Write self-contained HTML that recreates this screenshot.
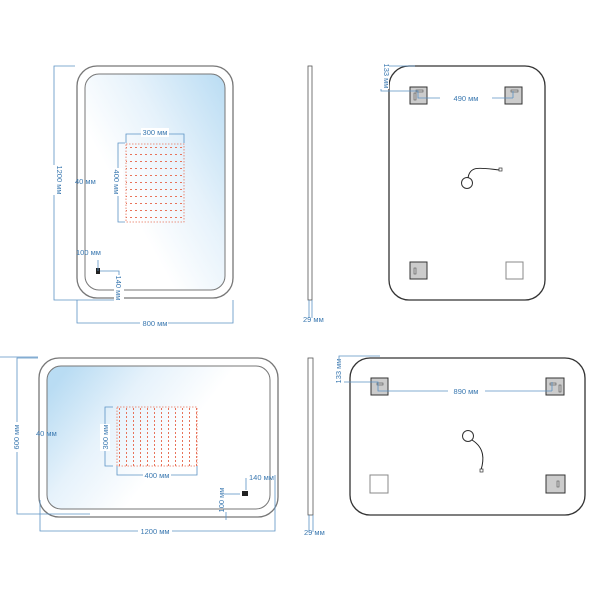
<!DOCTYPE html>
<html><head><meta charset="utf-8"><style>
html,body{margin:0;padding:0;background:#fff;}
svg{display:block;}
text{font-family:"Liberation Sans",sans-serif;font-size:7.5px;fill:#3a78b0;}
</style></head><body>
<svg width="600" height="600" viewBox="0 0 600 600" xmlns="http://www.w3.org/2000/svg">
<defs>
<linearGradient id="g1" x1="1" y1="0" x2="0.3" y2="0.6">
<stop offset="0" stop-color="#b9dcf3"/><stop offset="0.55" stop-color="#e6f2fb"/><stop offset="1" stop-color="#ffffff"/>
</linearGradient>
<linearGradient id="g2" x1="0" y1="0.2" x2="0.6" y2="0.5">
<stop offset="0" stop-color="#b9dcf3"/><stop offset="0.5" stop-color="#e6f2fb"/><stop offset="1" stop-color="#ffffff"/>
</linearGradient>
<pattern id="ledH" width="5" height="7" patternUnits="userSpaceOnUse">
<rect x="0" y="0" width="2" height="1" fill="#e8735a"/>
</pattern>
<pattern id="ledV" width="7" height="4" patternUnits="userSpaceOnUse">
<rect x="0" y="0" width="1" height="2" fill="#e8735a"/>
</pattern>
</defs>
<rect x="77" y="66" width="156" height="232" rx="20" fill="#fff" stroke="#777" stroke-width="1.3"/>
<rect x="85" y="74" width="140" height="216" rx="14" fill="url(#g1)" stroke="#777" stroke-width="1"/>
<rect x="126" y="144" width="58" height="78" fill="url(#ledH)"/>
<rect x="126" y="144" width="58" height="78" fill="none" stroke="#e8735a" stroke-width="0.8" stroke-dasharray="1.5 1.5"/>
<rect x="96" y="268" width="4" height="6" fill="#222"/>
<rect x="308" y="66" width="4" height="234" fill="#fff" stroke="#555" stroke-width="0.8"/>
<rect x="389" y="66" width="156" height="234" rx="20" fill="#fff" stroke="#333" stroke-width="1.3"/>
<g stroke="#333" stroke-width="1"><rect x="410" y="87" width="17" height="17" fill="#ccc"/><rect x="505" y="87" width="17" height="17" fill="#ccc"/><rect x="410" y="262" width="17" height="17" fill="#ccc"/><rect x="506" y="262" width="17" height="17" fill="#fff" stroke="#888"/></g>
<g fill="none" stroke="#555" stroke-width="0.6"><rect x="414" y="93" width="2" height="7"/><rect x="416" y="90" width="7" height="2"/><rect x="511" y="90" width="7" height="2"/><rect x="414" y="268" width="2" height="6"/></g>
<circle cx="467" cy="183" r="5.5" fill="#fff" stroke="#333"/>
<path d="M468,178 C470,165 480,168 500,170" fill="none" stroke="#222" stroke-width="1"/>
<rect x="499" y="168" width="3" height="3" fill="#fff" stroke="#333" stroke-width="0.7"/>
<rect x="39" y="358" width="239" height="159" rx="20" fill="#fff" stroke="#777" stroke-width="1.3"/>
<rect x="47" y="366" width="223" height="143" rx="14" fill="url(#g2)" stroke="#777" stroke-width="1"/>
<rect x="117" y="407" width="80" height="59" fill="url(#ledV)"/>
<rect x="117" y="407" width="80" height="59" fill="none" stroke="#e8735a" stroke-width="0.8" stroke-dasharray="1.5 1.5"/>
<rect x="242" y="491" width="6" height="5" fill="#222"/>
<rect x="308" y="358" width="5" height="157" fill="#fff" stroke="#555" stroke-width="0.8"/>
<rect x="350" y="358" width="235" height="157" rx="20" fill="#fff" stroke="#333" stroke-width="1.3"/>
<g stroke="#333" stroke-width="1"><rect x="371" y="378" width="17" height="17" fill="#ccc"/><rect x="546" y="378" width="18" height="17" fill="#ccc"/><rect x="370" y="475" width="18" height="18" fill="#fff" stroke="#888"/><rect x="546" y="475" width="19" height="18" fill="#ccc"/></g>
<g fill="none" stroke="#555" stroke-width="0.6"><rect x="377" y="383" width="6" height="2"/><rect x="550" y="383" width="6" height="2"/><rect x="559" y="385" width="2" height="7"/><rect x="557" y="481" width="2" height="6"/></g>
<circle cx="468" cy="436" r="5.5" fill="#fff" stroke="#333"/>
<path d="M472,440 C485,448 484,460 481,470" fill="none" stroke="#222" stroke-width="1"/>
<rect x="480" y="469" width="3" height="3" fill="#fff" stroke="#333" stroke-width="0.7"/>
<g fill="none" stroke="#5b92c4" stroke-width="0.8">
<polyline points="75,66 54,66 54,300 115,300"/>
<polyline points="77,300 77,323 233,323 233,300"/>
<polyline points="125,143 118,143 118,222 125,222"/>
<polyline points="126,143 126,134 184,134 184,143"/>
<polyline points="98,260 98,271"/>
<polyline points="100,271 119,271 119,300"/>
<line x1="309" y1="300" x2="309" y2="318"/><line x1="312" y1="300" x2="312" y2="318"/>
<polyline points="415,66 381,66 381,91 418,91 418,98 440,98"/>
<line x1="492" y1="98" x2="513" y2="98"/><line x1="513" y1="91" x2="513" y2="98"/>
<polyline points="0,357 38,357"/>
<polyline points="38,358 17,358 17,514 90,514"/>
<polyline points="40,500 40,531 275,531 275,475"/>
<polyline points="113,407 105,407 105,466 113,466"/>
<polyline points="117,466 117,475 197,475 197,466"/>
<polyline points="224,494 240,494"/>
<polyline points="246,478 246,490"/>
<line x1="226" y1="512" x2="226" y2="520"/>
<line x1="309" y1="515" x2="309" y2="532"/><line x1="313" y1="515" x2="313" y2="532"/>
<polyline points="380,356 339,356 339,382 378,382 378,391 448,391"/>
<line x1="485" y1="391" x2="552" y2="391"/><line x1="552" y1="382" x2="552" y2="391"/>
</g>
<g>
<rect x="141" y="128" width="28" height="9" fill="#fff"/>
<text x="155" y="135" text-anchor="middle">300 мм</text>
<rect x="48" y="165" width="12" height="30" fill="#fff"/>
<text transform="translate(57,180) rotate(90)" text-anchor="middle">1200 мм</text>
<rect x="113" y="168" width="10" height="28" fill="#fff"/>
<text transform="translate(114,182) rotate(90)" text-anchor="middle">400 мм</text>
<text x="75" y="184">40 мм</text>
<text x="76" y="255">100 мм</text>
<rect x="114" y="275" width="10" height="26" fill="#fff"/>
<text transform="translate(116,288) rotate(90)" text-anchor="middle">140 мм</text>
<rect x="140" y="319" width="28" height="9" fill="#fff"/>
<text x="155" y="326" text-anchor="middle">800 мм</text>
<text x="303" y="322">29 мм</text>
<rect x="380" y="64" width="9" height="25" fill="#fff"/>
<text transform="translate(384,76) rotate(90)" text-anchor="middle">133 мм</text>
<rect x="450" y="94" width="32" height="9" fill="#fff"/>
<text x="466" y="101" text-anchor="middle">490 мм</text>
<rect x="11" y="422" width="12" height="30" fill="#fff"/>
<text transform="translate(19,437) rotate(-90)" text-anchor="middle">600 мм</text>
<text x="36" y="436">40 мм</text>
<rect x="100" y="424" width="10" height="27" fill="#fff"/>
<text transform="translate(108,437) rotate(-90)" text-anchor="middle">300 мм</text>
<rect x="143" y="471" width="28" height="9" fill="#fff"/>
<text x="157" y="478" text-anchor="middle">400 мм</text>
<text x="249" y="480">140 мм</text>
<text transform="translate(224,500) rotate(-90)" text-anchor="middle">100 мм</text>
<rect x="138" y="527" width="34" height="9" fill="#fff"/>
<text x="155" y="534" text-anchor="middle">1200 мм</text>
<text x="304" y="535">29 мм</text>
<rect x="334" y="359" width="10" height="25" fill="#fff"/>
<text transform="translate(341,371) rotate(-90)" text-anchor="middle">133 мм</text>
<rect x="450" y="387" width="32" height="9" fill="#fff"/>
<text x="466" y="394" text-anchor="middle">890 мм</text>
</g>
</svg>
</body></html>
